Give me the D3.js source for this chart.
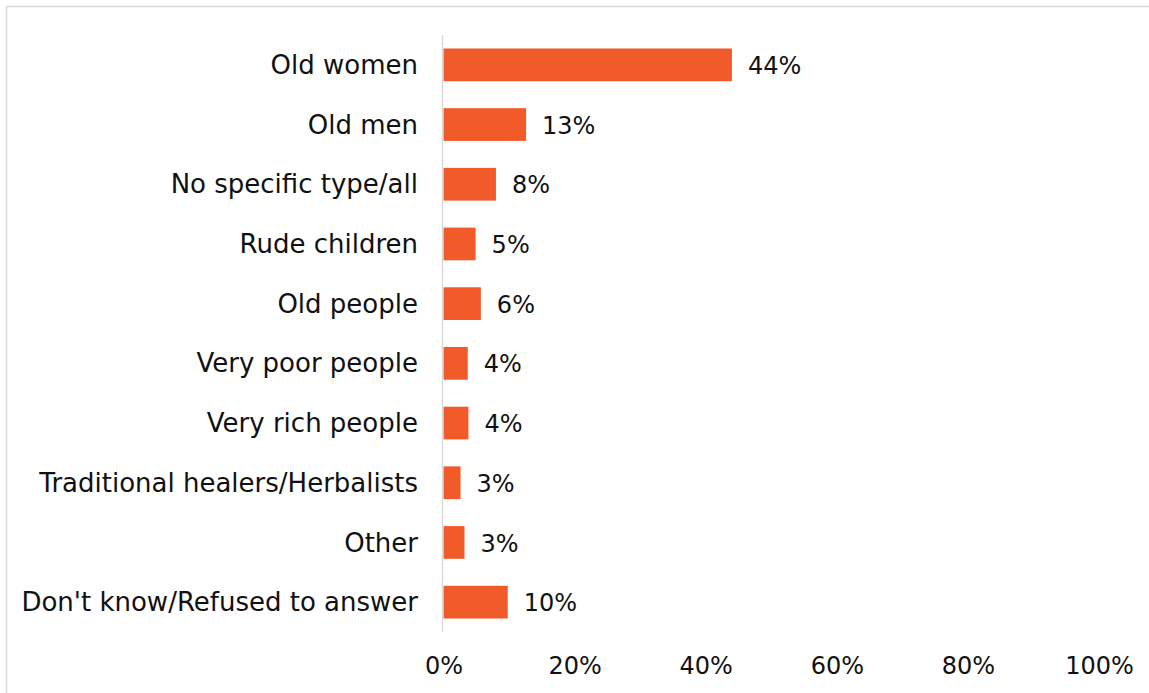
<!DOCTYPE html>
<html>
<head>
<meta charset="utf-8">
<script src="https://cdn.jsdelivr.net/npm/d3@7"></script>
<style>
  html, body { margin: 0; padding: 0; background: #fff; }
  svg { display: block; }
  text { font-family: "Century Gothic", "URW Gothic", "DejaVu Sans", sans-serif; fill: #111; }
</style>
</head>
<body>
<svg id="chart" width="1149" height="693"></svg>
<script>
// Who is most often accused of witchcraft (share of respondents, %)
const categories = [
  "Old women",
  "Old men",
  "No specific type/all",
  "Rude children",
  "Old people",
  "Very poor people",
  "Very rich people",
  "Traditional healers/Herbalists",
  "Other",
  "Don't know/Refused to answer"
];
const shares = [44.0, 12.6, 8.0, 4.9, 5.7, 3.7, 3.8, 2.6, 3.2, 9.8];
const tickValues = [0, 20, 40, 60, 80, 100];

const width = 1149, height = 693;
const svg = d3.select("#chart");

// outer frame of the chart area
svg.append("rect")
  .attr("x", 6.5).attr("y", 6.5)
  .attr("width", width + 20).attr("height", height + 20)
  .attr("fill", "#fff")
  .attr("stroke", "#d9d9d9")
  .attr("stroke-width", 1.5);

const x = d3.scaleLinear().domain([0, 100]).range([443.5, 1099]);
const y = d3.scaleBand()
  .domain(categories)
  .range([35, 632])
  .paddingInner(0.452)
  .paddingOuter(0.226);

const fmt = d => d3.format(".0%")(d / 100);
const data = categories.map((c, i) => ({ cat: c, v: shares[i] }));

// bars
svg.append("g").selectAll("rect")
  .data(data)
  .join("rect")
  .attr("x", x(0))
  .attr("y", d => y(d.cat))
  .attr("width", d => x(d.v) - x(0))
  .attr("height", y.bandwidth())
  .attr("fill", "#F15A29");

// vertical category axis line
svg.append("line")
  .attr("x1", 442.5).attr("x2", 442.5)
  .attr("y1", 35).attr("y2", 632)
  .attr("stroke", "#d9d9d9")
  .attr("stroke-width", 1.5);

// category labels
const yAxis = d3.axisLeft(y).tickSize(0).tickPadding(0);
const gy = svg.append("g").attr("transform", "translate(418,0)").call(yAxis);
gy.select(".domain").remove();
gy.attr("font-family", null);
gy.selectAll("text")
  .attr("font-size", 26)
  .attr("dy", "0.35em");

// value labels
svg.append("g").selectAll("text")
  .data(data)
  .join("text")
  .attr("x", d => x(d.v) + 16)
  .attr("y", d => y(d.cat) + y.bandwidth() / 2)
  .attr("dy", "0.38em")
  .attr("font-size", 24)
  .text(d => fmt(d.v));

// percentage axis along the bottom
const xAxis = d3.axisBottom(x).tickValues(tickValues).tickFormat(fmt).tickSize(0).tickPadding(0);
const gx = svg.append("g").attr("transform", "translate(0,666)").call(xAxis);
gx.select(".domain").remove();
gx.attr("font-family", null);
gx.selectAll("text")
  .attr("font-size", 24)
  .attr("dy", "0.35em")
  .attr("y", 0);
</script>
</body>
</html>
